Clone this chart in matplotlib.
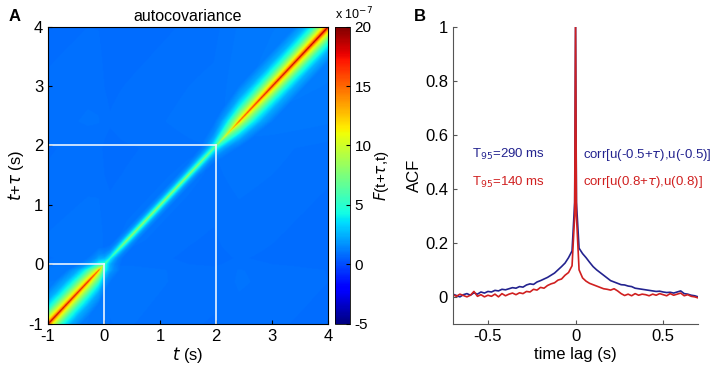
import numpy as np
import matplotlib.pyplot as plt

plt.rcParams['font.family'] = ['Liberation Sans', 'DejaVu Sans']
plt.rcParams['axes.unicode_minus'] = False

# ---- panel A: variance / band width along the diagonal and lag profile
diag_t = [-1.0, -0.3, -0.1, 0.0, 0.1, 0.4, 1.5, 1.95, 2.1, 2.4, 3.0, 4.0]
diag_var = [19, 17, 15, 6, 5, 8.5, 8.5, 7, 9, 15, 18, 20]          # x 1e-7
diag_width = [1.0, 1.0, 0.9, 0.6, 0.4, 0.35, 0.35, 0.45, 0.7, 1.0, 1.0, 1.0]
prof_lag = [0.0, 0.01, 0.03, 0.06, 0.10, 0.15, 0.25, 0.40, 0.60, 5.0]
prof_corr = [1.0, 0.85, 0.70, 0.60, 0.50, 0.40, 0.22, 0.09, 0.02, 0.0]
background = 0.8

# ---- panel B: ACF curves
lag_left = [-0.70, -0.68, -0.66, -0.64, -0.62, -0.60, -0.58, -0.56, -0.54, -0.52,
            -0.50, -0.48, -0.46, -0.44, -0.42, -0.40, -0.38, -0.36, -0.34, -0.32,
            -0.30, -0.28, -0.26, -0.24, -0.22, -0.20, -0.18, -0.16, -0.14, -0.12,
            -0.10, -0.08, -0.06, -0.04, -0.02, -0.005]
lag_right = [0.005, 0.02, 0.04, 0.06, 0.08, 0.10, 0.12, 0.14, 0.16, 0.18, 0.20,
             0.22, 0.24, 0.26, 0.28, 0.30, 0.32, 0.34, 0.36, 0.38, 0.40,
             0.42, 0.44, 0.46, 0.48, 0.50, 0.52, 0.54, 0.56, 0.58, 0.60,
             0.62, 0.64, 0.66, 0.68, 0.70]
lag = lag_left + [0.0] + lag_right

acf_blue = [0.010, 0.005, 0.000, 0.008, 0.012, 0.006, 0.015, 0.010, 0.018, 0.014,
            0.020, 0.018, 0.024, 0.022, 0.028, 0.026, 0.030, 0.034, 0.032, 0.038,
            0.036, 0.044, 0.048, 0.046, 0.055, 0.060, 0.066, 0.072, 0.080, 0.088,
            0.100, 0.112, 0.125, 0.145, 0.170, 0.35,
            1.0,
            0.35, 0.180, 0.160, 0.145, 0.128, 0.112, 0.100, 0.090, 0.080, 0.070, 0.060,
            0.055, 0.050, 0.045, 0.044, 0.040, 0.038, 0.032, 0.030, 0.028, 0.026,
            0.024, 0.022, 0.020, 0.021, 0.018, 0.016, 0.017, 0.014, 0.018, 0.022,
            0.012, 0.010, 0.006, 0.004, 0.000]
acf_red = [0.008, 0.002, 0.010, 0.005, 0.000, 0.006, 0.020, 0.002, 0.008, 0.000,
           0.006, 0.002, 0.010, 0.000, 0.012, 0.004, 0.010, 0.014, 0.008, 0.015,
           0.012, 0.020, 0.018, 0.028, 0.025, 0.035, 0.032, 0.042, 0.048, 0.052,
           0.062, 0.066, 0.080, 0.090, 0.115, 0.30,
           1.0,
           0.30, 0.100, 0.070, 0.058, 0.050, 0.045, 0.040, 0.035, 0.030, 0.028, 0.025,
           0.030, 0.022, 0.012, 0.005, 0.010, 0.004, 0.012, 0.006, 0.010, 0.008,
           0.004, 0.010, 0.006, 0.012, 0.008, 0.004, 0.012, 0.006, 0.010, 0.014,
           0.004, 0.008, 0.002, 0.000, -0.004]

blue = '#23238f'
red = '#d02020'

fig = plt.figure(figsize=(7.11, 3.74), dpi=100)
axA = fig.add_axes([0.0675, 0.134, 0.394, 0.795])
cax = fig.add_axes([0.471, 0.134, 0.021, 0.795])
axB = fig.add_axes([0.637, 0.134, 0.345, 0.795])

# build the covariance image
g = np.linspace(-1, 4, 400)
T, S = np.meshgrid(g, g)
var = np.interp(g, diag_t, diag_var)
wid = np.interp(g, diag_t, diag_width)
V = np.sqrt(np.outer(var, var))
W = 0.5 * (wid[:, None] + wid[None, :])
C = np.interp(np.abs(S - T) / W, prof_lag, prof_corr)
img = background + V * C

im = axA.imshow(img, extent=[-1, 4, -1, 4], origin='lower', aspect='auto',
                cmap='jet', vmin=-5, vmax=20, interpolation='bilinear')
axA.plot([-1, 0], [0, 0], c='#e8f4ff', lw=1.2)
axA.plot([0, 0], [-1, 0], c='#e8f4ff', lw=1.2)
axA.plot([-1, 2], [2, 2], c='#e8f4ff', lw=1.2)
axA.plot([2, 2], [-1, 2], c='#e8f4ff', lw=1.2)
axA.set_xlim(-1, 4)
axA.set_ylim(-1, 4)
axA.set_xticks([-1, 0, 1, 2, 3, 4])
axA.set_yticks([-1, 0, 1, 2, 3, 4])
axA.tick_params(direction='in', labelsize=12, length=3)
axA.set_xlabel(r'$t$ (s)', fontsize=12, labelpad=1)
axA.set_ylabel(r'$t$+$\tau$ (s)', fontsize=12, labelpad=2)
axA.set_title('autocovariance', fontsize=11.5, pad=4)

cb = fig.colorbar(im, cax=cax, ticks=[-5, 0, 5, 10, 15, 20])
cb.ax.tick_params(direction='in', labelsize=11, length=3)
cb.outline.set_linewidth(0.6)
cb.set_label(r'$F$(t+$\tau$,t)', fontsize=11, labelpad=0)
cax.text(0.0, 1.015, r'x 10$^{-7}$', transform=cax.transAxes, fontsize=9,
         va='bottom', ha='left')

# panel B
axB.plot(lag, acf_blue, c=blue, lw=1.2)
axB.plot(lag, acf_red, c=red, lw=1.2)
axB.set_xlim(-0.7, 0.7)
axB.set_ylim(-0.1, 1)
axB.set_xticks([-0.5, 0, 0.5])
axB.set_xticklabels(['-0.5', '0', '0.5'])
axB.set_yticks([0, 0.2, 0.4, 0.6, 0.8, 1])
axB.set_yticklabels(['0', '0.2', '0.4', '0.6', '0.8', '1'])
axB.spines['top'].set_visible(False)
axB.spines['right'].set_visible(False)
for sp in ['left', 'bottom']:
    axB.spines[sp].set_color('#555555')
axB.tick_params(direction='in', labelsize=12, length=3, color='#555555')
axB.set_xlabel('time lag (s)', fontsize=12, labelpad=2)
axB.set_ylabel('ACF', fontsize=12, labelpad=2)

axB.text(-0.59, 0.525, r'T$_{95}$=290 ms', color=blue, fontsize=9.5, va='center')
axB.text(-0.59, 0.425, r'T$_{95}$=140 ms', color=red, fontsize=9.5, va='center')
axB.text(0.045, 0.525, r'corr[u(-0.5+$\tau$),u(-0.5)]', color=blue, fontsize=9.5, va='center')
axB.text(0.045, 0.425, r'corr[u(0.8+$\tau$),u(0.8)]', color=red, fontsize=9.5, va='center')

fig.text(0.012, 0.955, 'A', fontsize=12, fontweight='bold', va='center')
fig.text(0.582, 0.955, 'B', fontsize=12, fontweight='bold', va='center')

plt.savefig('out.png', dpi=100)
